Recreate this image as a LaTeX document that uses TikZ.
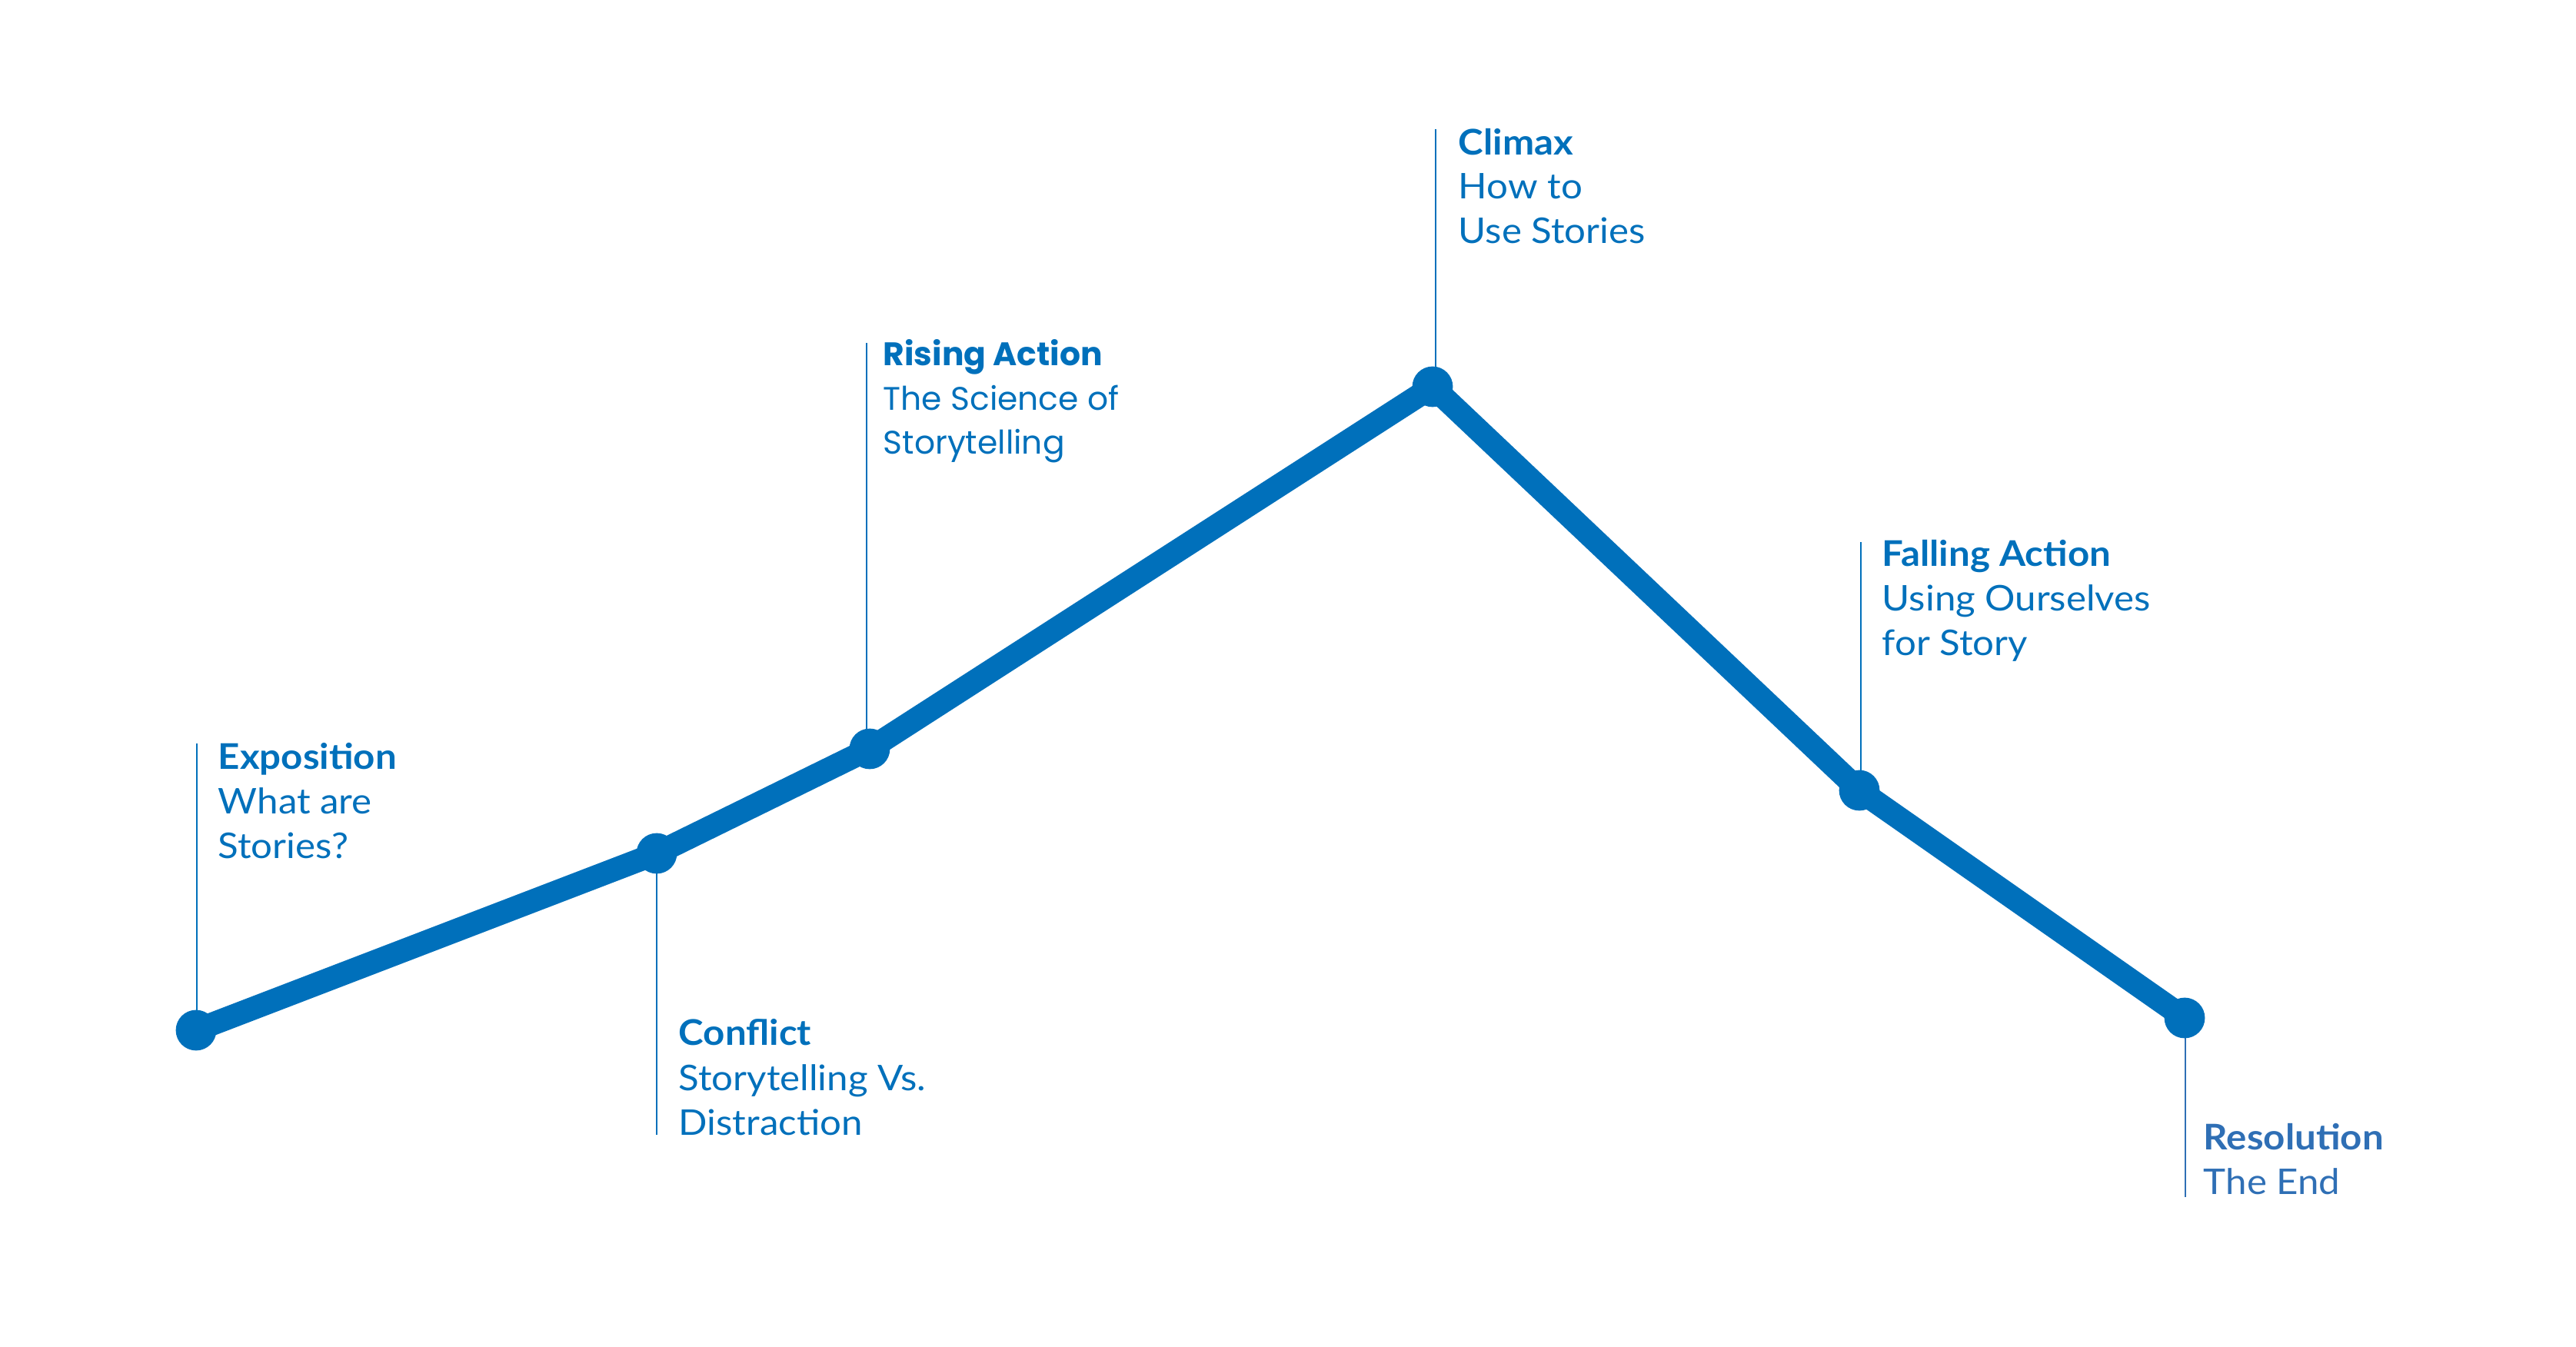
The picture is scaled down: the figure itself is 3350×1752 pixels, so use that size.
\documentclass[tikz,border=0pt]{standalone}
\usepackage{fontspec}
\setmainfont{Lato}[FakeStretch=1.07]
\newfontfamily\geofont{Poppins}
\definecolor{arcblue}{HTML}{0070BB}
\definecolor{resblue}{HTML}{2F6FB5}
\begin{document}
\begin{tikzpicture}[x=0.25pt,y=-0.25pt,
  arc/.style={line width=7.5pt,draw=arcblue,line join=round},
  dot/.style={circle,fill=arcblue,inner sep=0pt,minimum size=13.2pt},
  leader/.style={line width=0.5pt,draw=arcblue},
  ttl/.style={anchor=base west,inner sep=0pt,text=arcblue,font=\fontsize{11.5}{14}\selectfont\bfseries},
  sub/.style={anchor=base west,inner sep=0pt,text=arcblue,font=\fontsize{11.5}{14}\selectfont}]
\useasboundingbox (0,0) rectangle (3350,1752);
% leader line ends
\coordinate (t1) at (256,967);
\coordinate (t2) at (854,1476);
\coordinate (t3) at (1127,446);
\coordinate (t4) at (1867,168);
\coordinate (t5) at (2420,705);
\coordinate (t6) at (2842,1557);
% leader lines (drawn under the dots)
\draw[leader] (256,1340) -- (t1);
\draw[leader] (854,1110) -- (t2);
\draw[leader] (1127,974) -- (t3);
\draw[leader] (1867,503) -- (t4);
\draw[leader] (2420,1028) -- (t5);
\draw[leader,draw=resblue] (2842,1324) -- (t6);
% dots
\node[dot] (p1) at (255,1340) {};
\node[dot] (p2) at (854,1110) {};
\node[dot] (p3) at (1131,974) {};
\node[dot] (p4) at (1863,503) {};
\node[dot] (p5) at (2418,1028) {};
\node[dot] (p6) at (2841,1324) {};
% arc
\draw[arc] (p1.center) -- (p2.center) -- (p3.center) -- (p4.center) -- (p5.center) -- (p6.center);
% labels
\node[ttl] (e1) at (283,1001) {Exposition};
\node[sub] (e2) at (283,1059) {What are};
\node[sub] (e3) at (283,1117) {Stories?};
\node[ttl] (c1) at (882,1359) {Conflict};
\node[sub] (c2) at (882,1418) {Storytelling Vs.};
\node[sub] (c3) at (882,1476) {Distraction};
\node[ttl,font=\fontsize{10.6}{14}\selectfont\geofont\bfseries] (r1) at (1148,476) {Rising Action};
\node[sub,font=\fontsize{10.6}{14}\selectfont\geofont] (r2) at (1148,534) {The Science of};
\node[sub,font=\fontsize{10.6}{14}\selectfont\geofont] (r3) at (1148,591) {Storytelling};
\node[ttl] (x1) at (1896,202) {Climax};
\node[sub] (x2) at (1896,259) {How to};
\node[sub] (x3) at (1896,317) {Use Stories};
\node[ttl] (f1) at (2447,737) {Falling Action};
\node[sub] (f2) at (2447,795) {Using Ourselves};
\node[sub] (f3) at (2447,853) {for Story};
\node[ttl,text=resblue] (s1) at (2865,1495) {Resolution};
\node[sub,text=resblue] (s2) at (2865,1553) {The End};
\end{tikzpicture}
\end{document}
